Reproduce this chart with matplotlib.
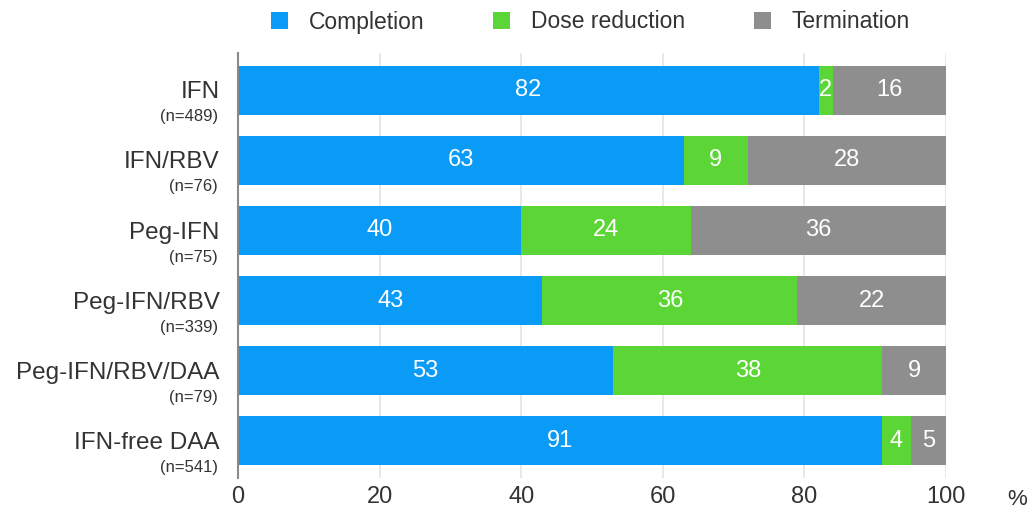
import matplotlib
matplotlib.use("Agg")
import matplotlib.pyplot as plt
import matplotlib.transforms as mtransforms
from matplotlib.patches import Patch
import numpy as np

plt.rcParams['font.family'] = ['Liberation Sans', 'DejaVu Sans']

regimens = ["IFN", "IFN/RBV", "Peg-IFN", "Peg-IFN/RBV", "Peg-IFN/RBV/DAA", "IFN-free DAA"]
n_labels = ["(n=489)", "(n=76)", "(n=75)", "(n=339)", "(n=79)", "(n=541)"]
completion = [82, 63, 40, 43, 53, 91]
dose_reduction = [2, 9, 24, 36, 38, 4]
termination = [16, 28, 36, 22, 9, 5]
series_names = ["Completion", "Dose reduction", "Termination"]
x_ticks = [0, 20, 40, 60, 80, 100]

colors = ["#0A9BF7", "#5CD636", "#8E8E8E"]
text_col = "#333333"

fig = plt.figure(figsize=(10.32, 5.13), dpi=100)
ax = fig.add_axes([238 / 1032, 1 - 478 / 513, (946 - 238) / 1032, (478 - 53) / 513])

y = np.arange(len(regimens))
left = np.zeros(len(regimens))
for vals, col, name in zip([completion, dose_reduction, termination], colors, series_names):
    vals = np.array(vals, dtype=float)
    bars = ax.barh(y, vals, left=left, height=0.7, color=col, label=name, zorder=2)
    for b, v in zip(bars, vals):
        x0, w = b.get_x(), b.get_width()
        # keep the label inside the visible part of the segment
        cx = (x0 + min(x0 + w, 100)) / 2
        ax.text(cx, b.get_y() + b.get_height() / 2, f"{int(v)}", color="white",
                ha="center", va="center", fontsize=17, zorder=3)
    left += vals

ax.set_xlim(0, 100)
ax.set_ylim(len(regimens) - 0.5 + 0.03, -0.5 - 0.03)
ax.set_xticks(x_ticks)
ax.set_xticklabels([str(t) for t in x_ticks], fontsize=17, color=text_col)
ax.tick_params(axis="x", length=0, pad=6)
ax.set_yticks([])
ax.xaxis.grid(True, color="#E4E4E4", linewidth=1.2, zorder=0)
ax.set_axisbelow(True)
for s in ["top", "right", "bottom"]:
    ax.spines[s].set_visible(False)
ax.spines["left"].set_color("#8A8A8A")
ax.spines["left"].set_linewidth(1.5)
ax.spines["left"].set_zorder(4)

# Two-line category labels: regimen name and sample size
trans = mtransforms.blended_transform_factory(ax.transAxes, ax.transData)
for i, (name, nl) in enumerate(zip(regimens, n_labels)):
    ax.text(-0.026, i + 0.03, name, transform=trans, ha="right", va="center",
            fontsize=17.5, color=text_col)
    ax.text(-0.028, i + 0.38, nl, transform=trans, ha="right", va="center",
            fontsize=12, color=text_col)

ax.text(1.1, -0.05, "%", transform=ax.transAxes, ha="center", va="center",
        fontsize=16, color=text_col)

handles = [Patch(facecolor=c, edgecolor="none") for c in colors]
fig.legend(handles, series_names, loc="center", bbox_to_anchor=(0.572, 1 - 22 / 513),
           ncol=3, frameon=False, fontsize=16.5, handlelength=0.75, handleheight=0.75,
           handletextpad=0.9, columnspacing=3.0, labelcolor=text_col)

fig.savefig("out.png", dpi=100, facecolor="white")
